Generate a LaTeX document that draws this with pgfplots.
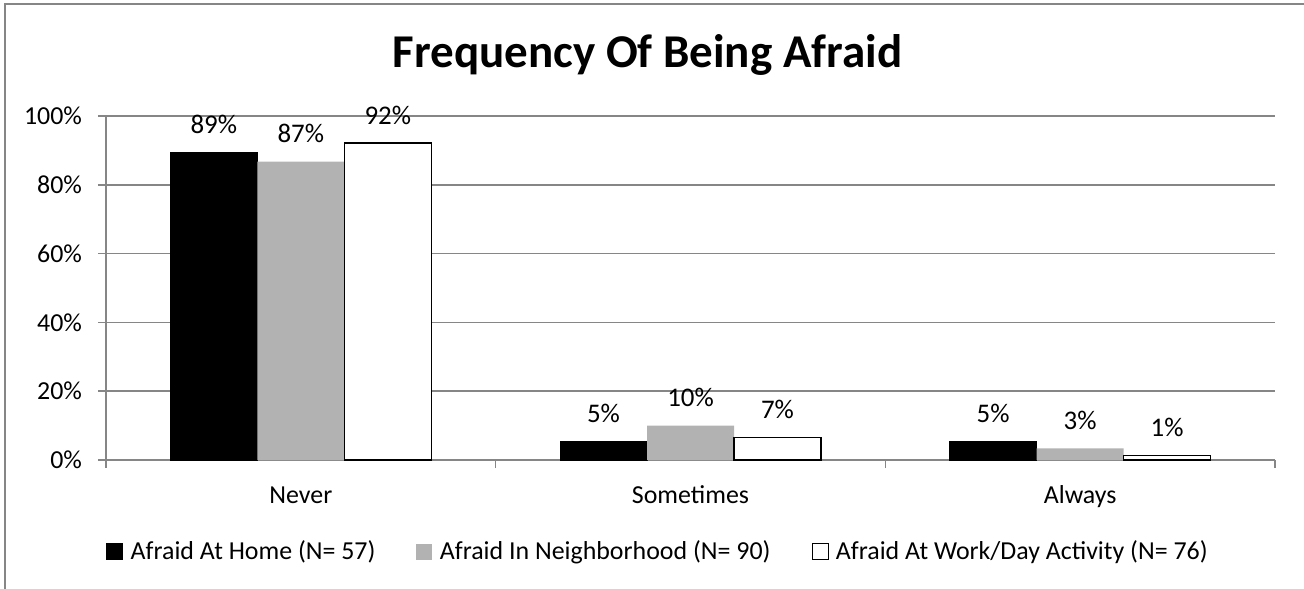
\documentclass[border=0pt]{standalone}
\usepackage{pgfplots}
\pgfplotsset{compat=1.18}
\usepackage{fontspec}
\setmainfont{Carlito}
\definecolor{axisgray}{RGB}{134,134,134}
\definecolor{bargray}{RGB}{178,178,178}

\begin{document}
\begin{tikzpicture}
\useasboundingbox (0bp,0bp) rectangle (652bp,294.5bp);
% chart frame (only left and top edges show)
\draw[axisgray, line width=0.75bp] (2.5bp,0bp) -- (2.5bp,292.5bp) -- (652bp,292.5bp);
\node[font=\fontsize{23.6}{28}\selectfont\bfseries] at (323.75bp,267bp) {Frequency Of Being Afraid};

\begin{axis}[
    at={(53bp,64.5bp)}, anchor=south west,
    scale only axis,
    width=584.5bp, height=172bp,
    ybar=0pt, bar width=43.5bp,
    xmin=-0.5, xmax=2.5,
    ymin=0, ymax=100,
    clip=false,
    axis lines=left,
    axis line style={axisgray, line width=0.75bp, -},
    ytick={0,20,...,100},
    yticklabel={\pgfmathprintnumber{\tick}\%},
    ymajorgrids,
    grid style={axisgray, line width=0.75bp},
    xtick={-0.5,0.5,1.5,2.5},
    x tick label as interval,
    xticklabels={Never,Sometimes,Always},
    tick align=outside,
    major tick length=4bp,
    tick style={axisgray, line width=0.75bp},
    tick label style={font=\fontsize{13}{15}\selectfont, text=black},
    y tick label style={xshift=-4.5bp},
    x tick label style={yshift=-5bp, text height=9bp, text depth=2.5bp},
    /pgf/number format/assume math mode=true,
    nodes near coords={\pgfmathprintnumber[fixed,precision=0]{\pgfplotspointmeta}\%},
    every node near coord/.append style={font=\fontsize{13.5}{15}\selectfont, text=black, anchor=base, inner sep=0pt, yshift=9.5bp},
    legend columns=3,
    legend style={at={(0.4726,-0.267)}, anchor=center, draw=none, fill=none,
        font=\fontsize{13}{15}\selectfont,
        nodes={inner xsep=1.5bp},
        /tikz/every odd column/.append style={column sep=2.2bp},
        /tikz/every even column/.append style={column sep=19bp}},
    legend image code/.code={\path[#1, line width=0.5bp] (0bp,-4bp) rectangle (8bp,4bp);},
]
\addplot[fill=black, draw=black] coordinates {(0,89.4) (1,5.3) (2,5.3)};
\addlegendentry{Afraid At Home (N= 57)}
\addplot[fill=bargray, draw=none] coordinates {(0,86.7) (1,10.0) (2,3.4)};
\addlegendentry{Afraid In Neighborhood (N= 90)}
\addplot[fill=white, draw=black, line width=0.75bp] coordinates {(0,92.1) (1,6.6) (2,1.3)};
\addlegendentry{Afraid At Work/Day Activity (N= 76)}
\end{axis}
\end{tikzpicture}
\end{document}
